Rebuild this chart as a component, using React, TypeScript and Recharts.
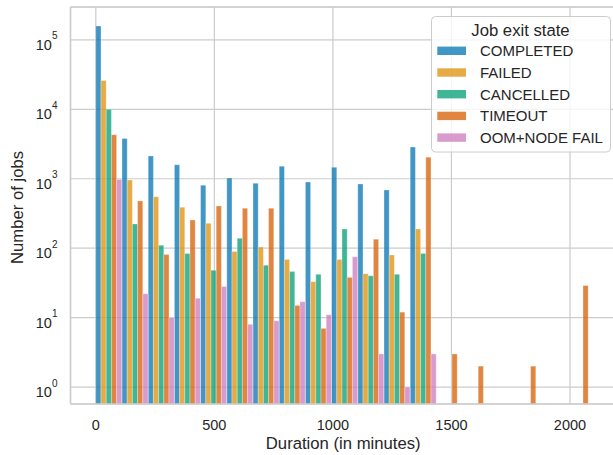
import React from "react";
import {
  BarChart,
  Bar,
  XAxis,
  YAxis,
  CartesianGrid,
  ReferenceLine,
  Legend,
} from "recharts";

// left edges of the histogram bins (minutes), bins are 110.5 minutes wide
const BIN_WIDTH = 110.5;
const binStarts = [0, 110.5, 221, 331.5, 442, 552.5, 663, 773.5, 884, 994.5, 1105, 1215.5, 1326, 1436.5, 1547, 1657.5, 1768, 1878.5, 1989];

// job counts per bin
const completed = [159000, 3800, 2130, 1590, 806, 1030, 861, 1520, 897, 1465, 842, 690, 2860, null, null, null, null, null, null];
const failed = [26000, 960, 550, 390, 228, 90, 104, 69, 33, 69, 43, 80, 189, null, null, null, null, null, null];
const cancelled = [10000, 224, 110, 84, 48, 139, 57, 46, 42, 189, 40, 42, 84, null, null, null, null, null, null];
const timeout = [4300, 480, 81, 255, 405, 376, 376, 15, 7, 38, 135, 12, 2050, 3, 2, null, 2, null, 29];
const oomNodeFail = [980, 22, 10, 19, 28, 8, 9, 17, 11, 75, 3, 1, 3, null, null, null, null, null, null];

const seriesKeys = ["completed", "failed", "cancelled", "timeout", "oom"];
const seriesNames = ["COMPLETED", "FAILED", "CANCELLED", "TIMEOUT", "OOM+NODE FAIL"];
const seriesColors = ["#0173b2", "#de8f05", "#029e73", "#d55e00", "#cc78bc"];

const xTicks = [0, 500, 1000, 1500, 2000];
const yTicks = [1, 10, 100, 1000, 10000, 100000];

const X_DOMAIN: [number, number] = [-106.7, 2194];
const Y_DOMAIN: [number, number] = [0.57, 298000];

const FONT = "'Liberation Sans', Arial, sans-serif";
const TEXT = "#262626";
const GRID = "#cccccc";

const W = 618;
const H = 455;
const MARGIN = { top: 7, right: 2, bottom: 0, left: 10.5 };
const Y_AXIS_W = 60;
const X_AXIS_H = 51;

const rows = binStarts.map((start, i) => ({
  mid: start + BIN_WIDTH / 2,
  completed: completed[i],
  failed: failed[i],
  cancelled: cancelled[i],
  timeout: timeout[i],
  oom: oomNodeFail[i],
}));

const PowerTick = (props: any) => {
  const { x, y, payload } = props;
  const exp = Math.round(Math.log10(payload.value));
  return (
    <text x={x} y={y + 10} textAnchor="end" fill={TEXT} fontSize={14.5} fontFamily={FONT}>
      <tspan>10</tspan>
      <tspan dy={-10.5} fontSize={10}>
        {exp}
      </tspan>
    </text>
  );
};

const LegendBox = () => (
  <svg width={181} height={138} style={{ display: "block", overflow: "visible" }}>
    <rect x={0.5} y={0.5} width={179} height={135.5} rx={4} fill="#ffffff" fillOpacity={0.8} stroke={GRID} />
    <text x={89.5} y={19.5} textAnchor="middle" fontSize={16.7} fill={TEXT} fontFamily={FONT}>
      Job exit state
    </text>
    {seriesNames.map((name, i) => {
      const cy = 34.8 + i * 21.7;
      return (
        <g key={name}>
          <rect x={6.3} y={cy - 4.2} width={28.7} height={8.4} fill={seriesColors[i]} fillOpacity={0.75} />
          <text x={49} y={cy + 5.4} fontSize={15} fill={TEXT} fontFamily={FONT}>
            {name}
          </text>
        </g>
      );
    })}
  </svg>
);

export default function App() {
  return (
    <div style={{ position: "absolute", left: 0, top: 0, width: 613, height: 455, overflow: "hidden", background: "#fff" }}>
      <BarChart
        width={W}
        height={H}
        data={rows}
        margin={MARGIN}
        barCategoryGap={0}
        barGap={0}
        barSize={5.2}
        style={{ fontFamily: FONT }}
      >
        <CartesianGrid stroke={GRID} strokeWidth={1.2} />
        <XAxis
          dataKey="mid"
          type="number"
          domain={X_DOMAIN}
          allowDataOverflow
          ticks={xTicks}
          height={X_AXIS_H}
          tickLine={false}
          tickSize={0}
          tickMargin={15.7}
          axisLine={{ stroke: GRID, strokeWidth: 1.5 }}
          tick={{ fontSize: 14.5, fill: TEXT, fontFamily: FONT }}
          label={{
            content: (p: any) => (
              <text
                x={p.viewBox.x + p.viewBox.width / 2}
                y={p.viewBox.y + 45}
                textAnchor="middle"
                fontSize={16.7}
                fill={TEXT}
                fontFamily={FONT}
              >
                Duration (in minutes)
              </text>
            ),
          }}
        />
        <YAxis
          scale="log"
          type="number"
          domain={Y_DOMAIN}
          allowDataOverflow
          ticks={yTicks}
          width={Y_AXIS_W}
          tickLine={false}
          tickSize={0}
          tickMargin={13}
          axisLine={{ stroke: GRID, strokeWidth: 1.5 }}
          tick={<PowerTick />}
          label={{
            content: (p: any) => {
              const lx = p.viewBox.x + 12;
              const ly = p.viewBox.y + p.viewBox.height / 2 + 2;
              return (
                <text
                  x={lx}
                  y={ly}
                  transform={`rotate(-90 ${lx} ${ly})`}
                  textAnchor="middle"
                  fontSize={16.7}
                  fill={TEXT}
                  fontFamily={FONT}
                >
                  Number of jobs
                </text>
              );
            },
          }}
        />
        <ReferenceLine y={Y_DOMAIN[1]} stroke={GRID} strokeWidth={1.5} />
        {seriesKeys.map((k, i) => (
          <Bar
            key={k}
            dataKey={k}
            name={seriesNames[i]}
            fill={seriesColors[i]}
            fillOpacity={0.75}
            stroke="#ffffff"
            strokeOpacity={0.6}
            strokeWidth={0.5}
            isAnimationActive={false}
          />
        ))}
        <Legend
          layout="vertical"
          align="center"
          verticalAlign="middle"
          wrapperStyle={{ top: 16, left: 430.5, width: 181, height: 138 }}
          content={() => <LegendBox />}
        />
      </BarChart>
    </div>
  );
}
